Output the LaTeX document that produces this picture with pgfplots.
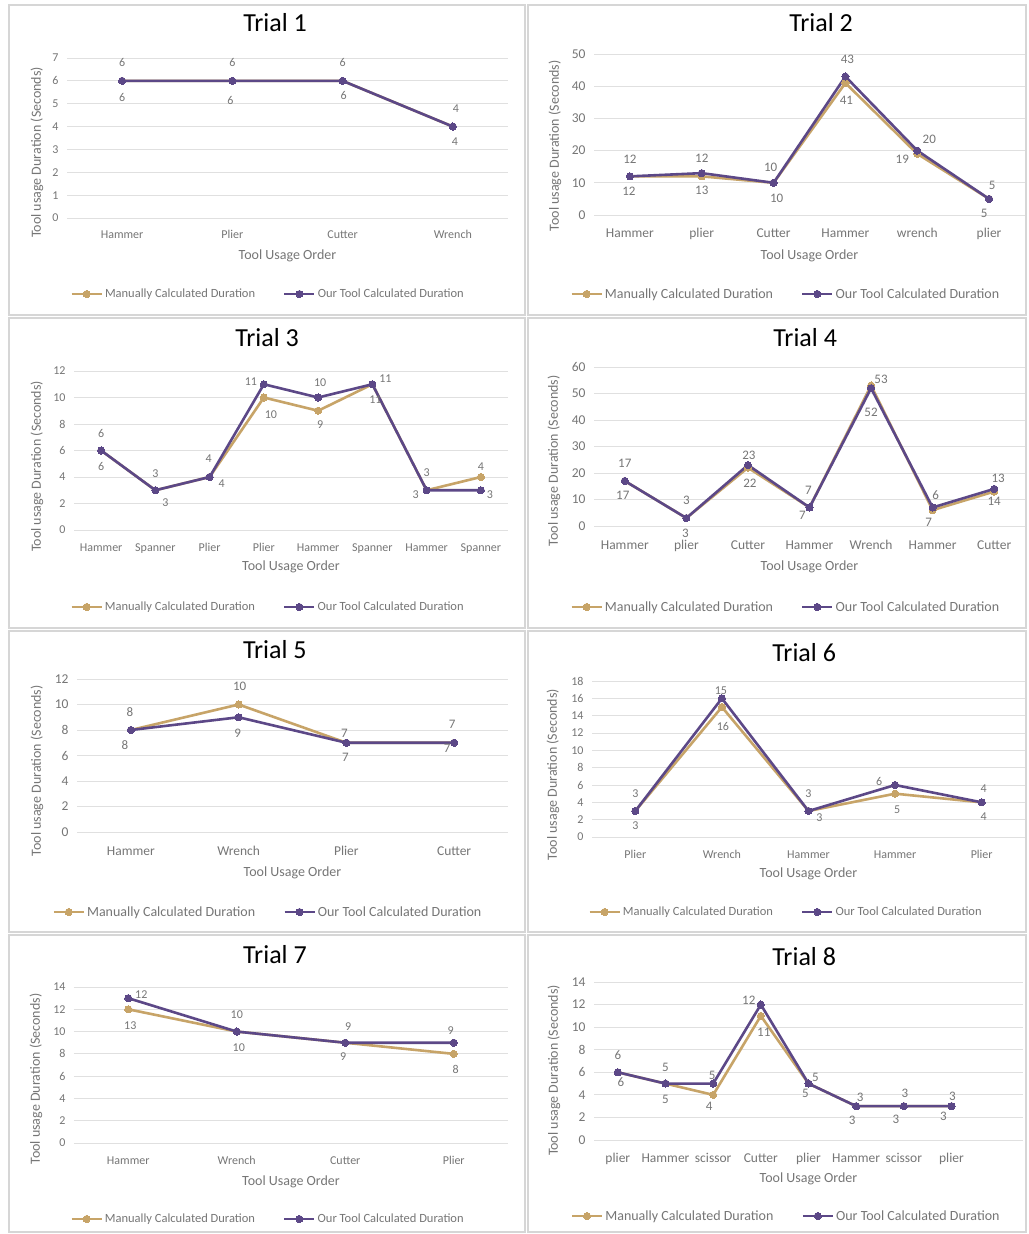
\documentclass[border=0pt]{standalone}
\usepackage{fontspec}
\setmainfont{Carlito}
\usepackage{pgfplots}
\usepackage{pgfplotstable}
\pgfplotsset{compat=1.18}

\definecolor{goldc}{RGB}{199,164,104}
\definecolor{purpc}{RGB}{92,72,135}
\definecolor{txtg}{RGB}{118,118,118}
\definecolor{gridc}{RGB}{224,224,224}
\definecolor{bordc}{RGB}{214,214,214}

\pgfplotsset{
  legend image code/.code={\draw[mark repeat=2,mark phase=2,#1] plot coordinates {(0pt,0pt) (15pt,0pt) (30pt,0pt)};},
  trialbase/.style={
    scale only axis, anchor=south west, xmin=-0.5, ymin=0,
    axis x line*=bottom, axis y line*=left, axis line style={draw=none},
    major tick length=0pt, tick style={draw=none},
    ymajorgrids, grid style={gridc, line width=1pt},
    xlabel={Tool Usage Order}, ylabel={Tool usage Duration (Seconds)},
    label style={text=txtg, font=\fontsize{14}{14}\selectfont},
    ticklabel style={text=txtg},
    /pgf/number format/assume math mode=true,
    xticklabel style={anchor=base},
    yticklabel style={anchor=east, xshift=-5pt},
    title style={anchor=center, font=\fontsize{26}{26}\selectfont, text=black},
    xlabel style={at={(axis description cs:0.5,0)}, anchor=center},
    ylabel style={anchor=center},
    legend columns=2,
    legend style={draw=none, fill=none, anchor=center, nodes={text=txtg},
      /tikz/every even column/.append style={column sep=26pt}},
    legend cell align=left,
    clip=false,
  },
  panel/.style n args={9}{
    title style={at={(axis description cs:#1,1)}, yshift=#2pt},
    xticklabel style={yshift=-#3pt-4pt},
    xlabel style={yshift=-#4pt},
    ylabel style={at={(axis description cs:#5,#6)}},
    legend style={at={(#7,0)}, yshift=-#8pt},
    #9},
  smallf/.style={ticklabel style={font=\fontsize{12}{12}\selectfont},
    legend style={font=\fontsize{12.5}{12.5}\selectfont}},
  largef/.style={ticklabel style={font=\fontsize{13.5}{13.5}\selectfont},
    legend style={font=\fontsize{14}{14}\selectfont}},
  man/.style={goldc, line width=2.6pt, mark=*, mark size=3.6pt,
    mark options={fill=goldc, draw=goldc, line width=0pt}},
  tool/.style={purpc, line width=2.6pt, mark=*, mark size=3.6pt,
    mark options={fill=purpc, draw=purpc, line width=0pt}},
}

\newcommand{\labels}[2]{%
  \addplot[forget plot, only marks, mark=none, nodes near coords,
    point meta=explicit symbolic,
    visualization depends on={\thisrow{dx}\as\labdx},
    visualization depends on={\thisrow{dy}\as\labdy},
    nodes near coords style={anchor=center, xshift=\labdx pt, yshift=\labdy pt,
      text=txtg, inner sep=0pt, font=\fontsize{#2}{#2}\selectfont}]
    table[x=x,y=y,meta=lab]{#1};}

\newcommand{\series}[1]{%
  \addplot[man] table[x=x,y=man]{#1};
  \addplot[tool] table[x=x,y=tool]{#1};
  \legend{Manually Calculated Duration,Our Tool Calculated Duration}}

% ---------------- data ----------------
\pgfplotstableread{
x man tool
0 6 6
1 6 6
2 6 6
3 4 4
}\dA
\pgfplotstableread{
x y lab dx dy
0 6 6 0 18
0 6 6 0 -17
1 6 6 0 18
1 6 6 -2 -20
2 6 6 0 18
2 6 6 1 -15
3 4 4 3 18
3 4 4 2 -15
}\lA

\pgfplotstableread{
x man tool
0 12 12
1 12 13
2 10 10
3 41 43
4 19 20
5 5 5
}\dB
\pgfplotstableread{
x y lab dx dy
0 12 12 0 17
0 12 12 -1 -15
1 13 12 0 15
1 12 13 0 -14
2 10 10 -3 15
2 10 10 3 -16
3 43 43 2 17
3 41 41 1 -17
4 20 20 12 11
4 20 19 -15 -9
5 5 5 3 14
5 5 5 -5 -14
}\lB

\pgfplotstableread{
x man tool
0 6 6
1 3 3
2 4 4
3 10 11
4 9 10
5 11 11
6 3 3
7 4 3
}\dC
\pgfplotstableread{
x y lab dx dy
0 6 6 0 17
0 6 6 0 -16
1 3 3 0 17
1 3 3 10 -12
2 4 4 -1 18
2 4 4 12 -7
3 11 11 -13 3
3 10 10 7 -17
4 10 10 2 15
4 9 9 2 -14
5 11 11 13 6
5 11 11 3 -15
6 3 3 0 18
6 3 3 -11 -4
7 4 4 0 10
7 3 3 9 -4
}\lC

\pgfplotstableread{
x man tool
0 17 17
1 3 3
2 22 23
3 7 7
4 53 52
5 6 7
6 13 14
}\dD
\pgfplotstableread{
x y lab dx dy
0 17 17 0 18
0 17 17 -2 -14
1 3 3 0 18
1 3 3 -1 -15
2 23 23 1 10
2 22 22 2 -16
3 7 7 -1 17
3 7 7 -7 -8
4 53 53 10 6
4 52 52 0 -24
5 7 6 3 12
5 6 7 -4 -12
6 14 13 4 11
6 13 14 0 -10
}\lD

\pgfplotstableread{
x man tool
0 8 8
1 10 9
2 7 7
3 7 7
}\dE
\pgfplotstableread{
x y lab dx dy
0 8 8 -1 18
0 8 8 -6 -15
1 10 10 1 18
1 9 9 -1 -16
2 7 7 -2 9
2 7 7 -1 -15
3 7 7 -2 18
3 7 7 -7 -6
}\lE

\pgfplotstableread{
x man tool
0 3 3
1 15 16
2 3 3
3 5 6
4 4 4
}\dF
\pgfplotstableread{
x y lab dx dy
0 3 3 0 17
0 3 3 0 -15
1 16 15 -1 8
1 15 16 1 -19
2 3 3 0 17
2 3 3 11 -7
3 6 6 -16 4
3 5 5 2 -16
4 4 4 2 14
4 4 4 2 -14
}\lF

\pgfplotstableread{
x man tool
0 12 13
1 10 10
2 9 9
3 8 9
}\dG
\pgfplotstableread{
x y lab dx dy
0 13 12 13 4
0 12 13 2 -16
1 10 10 0 17
1 10 10 2 -16
2 9 9 3 16
2 9 9 -2 -14
3 9 9 -3 12
3 8 8 2 -16
}\lG

\pgfplotstableread{
x man tool
0 6 6
1 5 5
2 4 5
3 11 12
4 5 5
5 3 3
6 3 3
7 3 3
}\dH
\pgfplotstableread{
x y lab dx dy
0 6 6 0 17
0 6 6 3 -10
1 5 5 0 16
1 5 5 0 -16
2 5 5 -1 8
2 4 4 -4 -11
3 12 12 -12 4
3 11 11 3 -16
4 5 5 7 6
4 5 5 -3 -10
5 3 3 4 9
5 3 3 -4 -14
6 3 3 1 13
6 3 3 -8 -13
7 3 3 1 10
7 3 3 -8 -10
}\lH

\begin{document}
\begin{tikzpicture}
\fill[white] (0pt,0pt) rectangle (1028pt,-1234pt);
\begin{scope}[bordc, line width=1.5pt]
\draw (9pt,-5pt) rectangle (525pt,-315pt);
\draw (528pt,-5pt) rectangle (1026pt,-315pt);
\draw (9pt,-318pt) rectangle (525pt,-628pt);
\draw (528pt,-318pt) rectangle (1026pt,-628pt);
\draw (9pt,-631pt) rectangle (525pt,-932pt);
\draw (528pt,-631pt) rectangle (1026pt,-932pt);
\draw (9pt,-935pt) rectangle (525pt,-1232pt);
\draw (528pt,-935pt) rectangle (1026pt,-1232pt);
\end{scope}

% Trial 1
\begin{axis}[trialbase, at={(67pt,-218pt)}, width=441pt, height=160pt,
  xmax=3.5, ymax=7, ytick={0,1,...,7},
  xtick={0,1,2,3}, xticklabels={Hammer,Plier,Cutter,Wrench},
  title={Trial 1},
  panel={0.472}{29}{16}{38}{-0.068}{0.41}{0.456}{76}{smallf}]
\series{\dA}
\labels{\lA}{12}
\end{axis}

% Trial 2
\begin{axis}[trialbase, at={(594pt,-215pt)}, width=431pt, height=161pt,
  xmax=5.5, ymax=50, ytick={0,10,...,50},
  xtick={0,...,5}, xticklabels={Hammer,plier,Cutter,Hammer,wrench,plier},
  title={Trial 2},
  panel={0.527}{25}{18}{41}{-0.0905}{0.43}{0.445}{79}{largef}]
\series{\dB}
\labels{\lB}{13}
\end{axis}

% Trial 3
\begin{axis}[trialbase, at={(74pt,-530pt)}, width=434pt, height=159pt,
  xmax=7.5, ymax=12, ytick={0,2,...,12},
  xtick={0,...,7}, xticklabels={Hammer,Spanner,Plier,Plier,Hammer,Spanner,Hammer,Spanner},
  title={Trial 3},
  panel={0.445}{27}{17}{37}{-0.0853}{0.40}{0.447}{77}{smallf}]
\series{\dC}
\labels{\lC}{12}
\end{axis}

% Trial 4
\begin{axis}[trialbase, at={(594pt,-526pt)}, width=431pt, height=159pt,
  xmax=6.5, ymax=60, ytick={0,10,...,60},
  xtick={0,...,6}, xticklabels={Hammer,plier,Cutter,Hammer,Wrench,Hammer,Cutter},
  title={Trial 4},
  panel={0.49}{23}{19}{41}{-0.0928}{0.41}{0.445}{81}{largef}]
\series{\dD}
\labels{\lD}{13}
\end{axis}

% Trial 5
\begin{axis}[trialbase, at={(77pt,-832pt)}, width=431pt, height=153pt,
  xmax=3.5, ymax=12, ytick={0,2,...,12},
  xtick={0,1,2,3}, xticklabels={Hammer,Wrench,Plier,Cutter},
  title={Trial 5},
  panel={0.459}{23}{19}{41}{-0.0928}{0.40}{0.443}{80}{largef}]
\series{\dE}
\labels{\lE}{13}
\end{axis}

% Trial 6
\begin{axis}[trialbase, at={(592pt,-837pt)}, width=433pt, height=156pt,
  xmax=4.5, ymax=18, ytick={0,2,...,18},
  xtick={0,...,4}, xticklabels={Plier,Wrench,Hammer,Hammer,Plier},
  title={Trial 6},
  panel={0.49}{22}{17}{37}{-0.0901}{0.40}{0.448}{75}{smallf}]
\series{\dF}
\labels{\lF}{12}
\end{axis}

% Trial 7
\begin{axis}[trialbase, at={(74pt,-1143pt)}, width=434pt, height=156pt,
  xmax=3.5, ymax=14, ytick={0,2,...,14},
  xtick={0,1,2,3}, xticklabels={Hammer,Wrench,Cutter,Plier},
  title={Trial 7},
  panel={0.463}{26}{17}{39}{-0.0876}{0.41}{0.447}{76}{smallf}]
\series{\dG}
\labels{\lG}{12}
\end{axis}

% Trial 8
\begin{axis}[trialbase, at={(594pt,-1140pt)}, width=429pt, height=158pt,
  xmax=8.5, ymax=14, ytick={0,2,...,14},
  xtick={0,...,7}, xticklabels={plier,Hammer,scissor,Cutter,plier,Hammer,scissor,plier},
  title={Trial 8},
  panel={0.49}{19}{18}{39}{-0.0932}{0.44}{0.448}{76}{largef}]
\series{\dH}
\labels{\lH}{13}
\end{axis}
\end{tikzpicture}
\end{document}
